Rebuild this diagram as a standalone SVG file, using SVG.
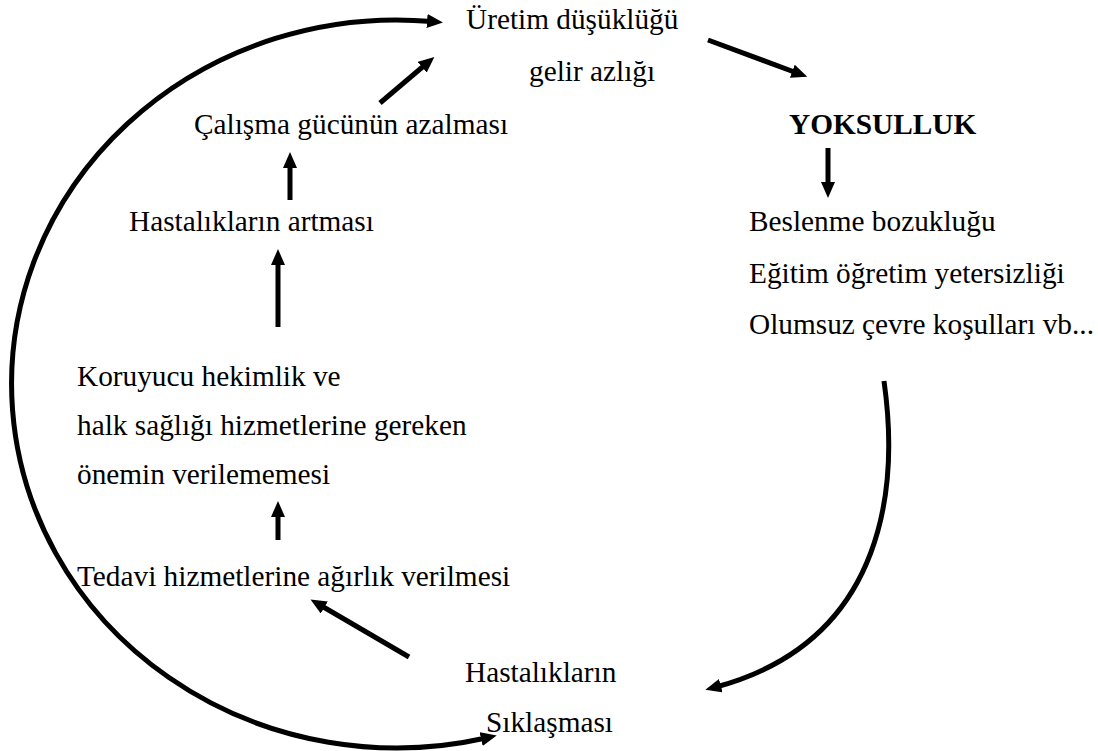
<svg xmlns="http://www.w3.org/2000/svg" width="1098" height="751" viewBox="0 0 1098 751">
<style>
  .t text { font-size: 29.3px; fill: #000; }
  .b { font-weight: bold; }
  .c { fill: none; stroke: #000; stroke-width: 5; }
</style>
<defs>
  <marker id="ah" viewBox="0 0 16 14" refX="5" refY="7" markerWidth="16" markerHeight="14" markerUnits="userSpaceOnUse" orient="auto-start-reverse">
    <path d="M0,0 L16,7 L0,14 z" fill="#000"/>
  </marker>
</defs>
<rect width="1098" height="751" fill="#fff"/>
<g class="t" font-family="'Liberation Serif', 'Times New Roman', serif">
<g id="n-uretim"><text x="466" y="29">Üretim düşüklüğü</text><text x="529" y="81">gelir azlığı</text></g>
<g id="n-calisma"><text x="194" y="134">Çalışma gücünün azalması</text></g>
<g id="n-yoksulluk"><text class="b" x="789" y="134">YOKSULLUK</text></g>
<g id="n-hastalik-artmasi"><text x="129" y="231">Hastalıkların artması</text></g>
<g id="n-beslenme"><text x="749" y="231">Beslenme bozukluğu</text><text x="749" y="283">Eğitim öğretim yetersizliği</text><text x="749" y="334">Olumsuz çevre koşulları vb...</text></g>
<g id="n-koruyucu"><text x="77" y="386">Koruyucu hekimlik ve</text><text x="77" y="435">halk sağlığı hizmetlerine gereken</text><text x="77" y="484">önemin verilememesi</text></g>
<g id="n-tedavi"><text x="77" y="586">Tedavi hizmetlerine ağırlık verilmesi</text></g>
<g id="n-siklasmasi"><text x="465" y="682">Hastalıkların</text><text x="486" y="732">Sıklaşması</text></g>
</g>
<g id="connectors">
  <path class="c" d="M 432 21.5 A 385 364 0 1 0 486 738" marker-start="url(#ah)" marker-end="url(#ah)"/>
  <line class="c" x1="708" y1="40" x2="797" y2="73" marker-end="url(#ah)"/>
  <line class="c" x1="828" y1="148" x2="828" y2="187" marker-end="url(#ah)"/>
  <path class="c" d="M 884 381 C 898 480, 890 640, 716 687" marker-end="url(#ah)"/>
  <line class="c" x1="409" y1="657" x2="320" y2="605" marker-end="url(#ah)"/>
  <line class="c" x1="278" y1="540" x2="278" y2="512" marker-end="url(#ah)"/>
  <line class="c" x1="278" y1="327" x2="278" y2="260" marker-end="url(#ah)"/>
  <line class="c" x1="290" y1="200" x2="290" y2="163" marker-end="url(#ah)"/>
  <line class="c" x1="380" y1="103" x2="426" y2="64" marker-end="url(#ah)"/>
</g>
</svg>
